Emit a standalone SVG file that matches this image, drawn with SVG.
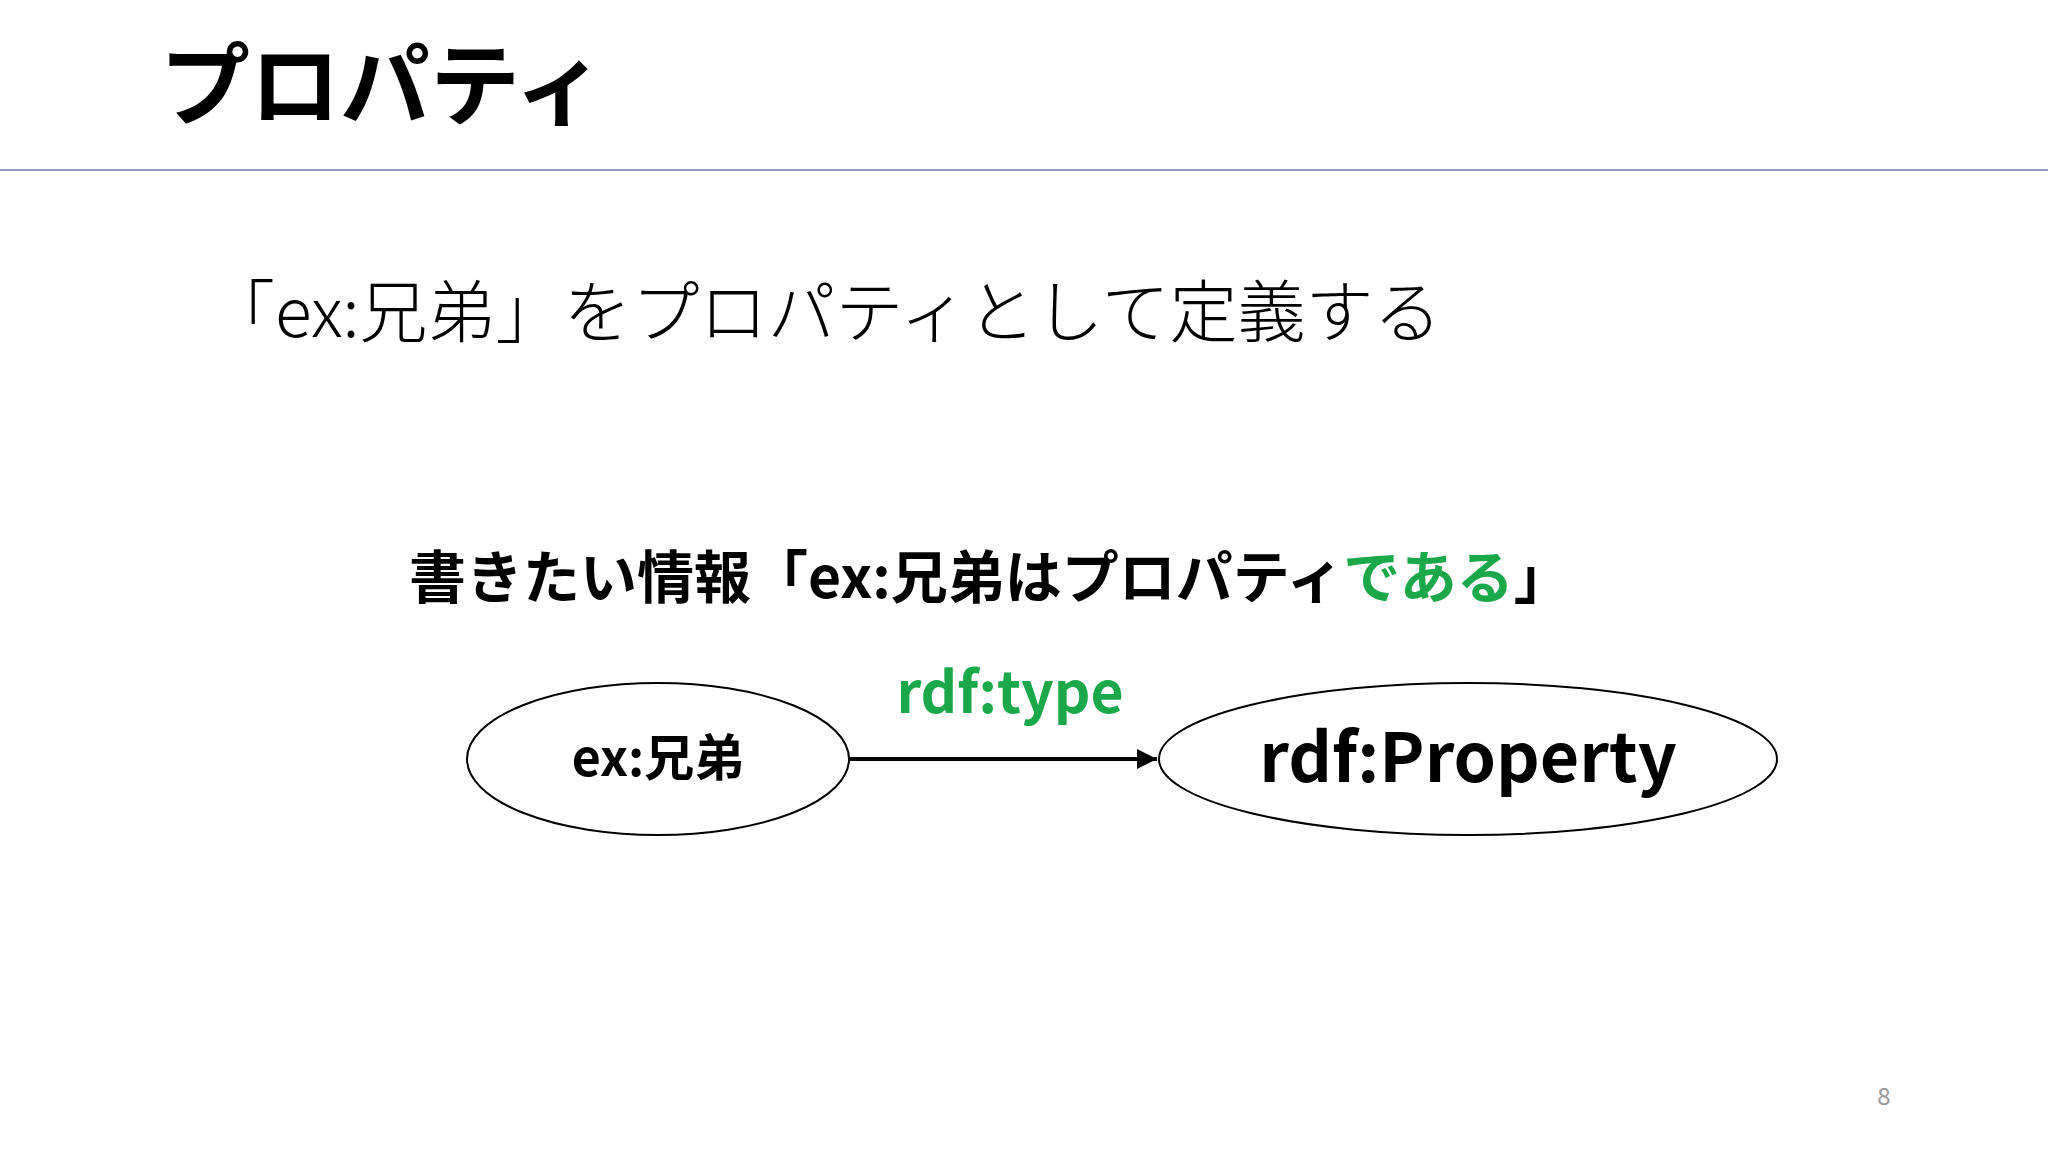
<svg xmlns="http://www.w3.org/2000/svg" width="2048" height="1152" viewBox="0 0 2048 1152">
<defs>
<style>
text{font-family:"Noto Sans CJK JP","Noto Sans",sans-serif;fill:#000}
.b{font-weight:700}
.g{fill:#1aa84a}
.n{fill:#fff;stroke:#000;stroke-width:2}
</style>
<marker id="ah" viewBox="0 0 10 10" refX="10" refY="5" markerWidth="5" markerHeight="5" orient="auto"><path d="M0,0L10,5L0,10z" fill="#000"/></marker>
</defs>
<rect width="2048" height="1152" fill="#fff"/>
<text x="160" y="118" font-size="90" class="b">プロパティ</text>
<line x1="0" y1="170" x2="2048" y2="170" stroke="#8c9cc4" stroke-width="2"/>
<text x="207" y="337" font-size="68" font-weight="300">「ex:兄弟」をプロパティとして定義する</text>
<text x="409" y="598" font-size="57" class="b">書きたい情報「ex:兄弟はプロパティ<tspan class="g">である</tspan>」</text>
<g id="connectors">
<line x1="849" y1="759" x2="1157" y2="759" stroke="#000" stroke-width="4" marker-end="url(#ah)"/>
<text x="1010" y="713" font-size="57" text-anchor="middle" class="b g">rdf:type</text>
</g>
<g id="n1">
<ellipse cx="658" cy="759" rx="191" ry="76" class="n"/>
<text x="658" y="776" font-size="50" text-anchor="middle" class="b">ex:兄弟</text>
</g>
<g id="n2">
<ellipse cx="1468" cy="759" rx="309" ry="76" class="n"/>
<text x="1468" y="782" font-size="68" text-anchor="middle" class="b">rdf:Property</text>
</g>
<text x="1884" y="1105" font-size="24" text-anchor="middle" style="fill:#999">8</text>
</svg>
